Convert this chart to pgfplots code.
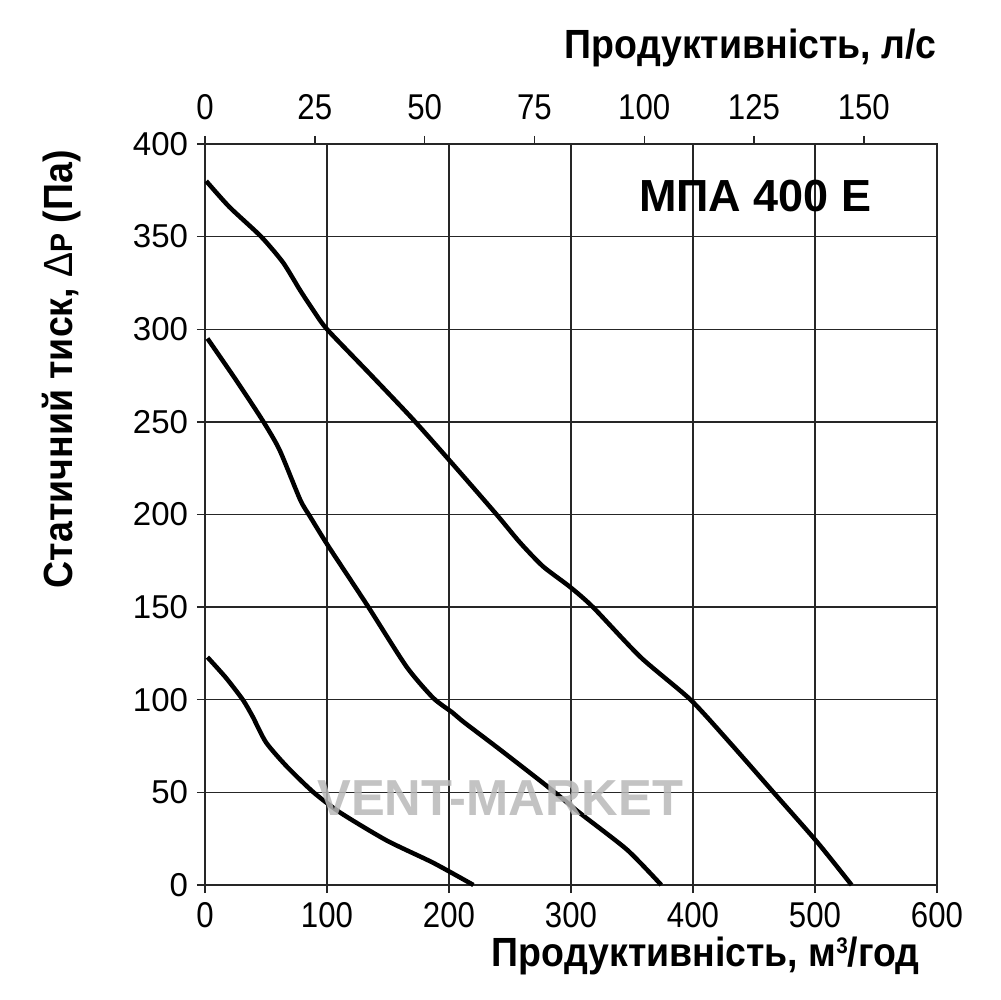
\documentclass[border=0pt]{standalone}
\usepackage{fontspec}
\setmainfont{Liberation Sans}
\usepackage{graphicx}
\usepackage{pgfplots}
\pgfplotsset{compat=1.18}
\begin{document}
\begin{tikzpicture}
\path[use as bounding box] (-51.25mm,-28.75mm) rectangle (198.75mm,221.25mm);
\begin{axis}[
  at={(0,0)}, anchor=south west,
  scale only axis, width=183mm, height=185.25mm,
  xmin=0, xmax=600, ymin=0, ymax=400,
  xtick={0,100,...,600}, ytick={0,50,...,400},
  tick align=outside, major tick length=2mm,
  xtick pos=bottom, ytick pos=left,
  grid=major,
  major grid style={line width=1pt, black!85},
  axis line style={line width=1.1pt, black!85},
  tick style={line width=1pt, black!85},
  /pgf/number format/assume math mode=true,
  xticklabel={\scalebox{0.87}[1]{\pgfmathprintnumber{\tick}}},
  x tick label style={font=\fontsize{25.5}{28}\selectfont, yshift=-1mm},
  y tick label style={font=\fontsize{23.5}{26}\selectfont, xshift=-1mm},
  clip=false,
]
\addplot[line width=3.2pt, black, smooth, tension=0.4] coordinates {
(1,380)(20,366)(46,350)(64,336)(78,321)(89,310)(100,300)(135,276)(171,251)(206,225)(239,200)(258,185)(277,172)(299,161)(318,150)(357,123)(398,100)(430,77)(466,50)(502,23)(530,0)};
\addplot[line width=3.2pt, black, smooth, tension=0.4] coordinates {
(2,295)(25,273)(47,251)(61,235)(78,208)(86,199)(101,183)(133,151)(165,118)(187,101)(203,93)(212,88)(242,73)(283,52)(307,39)(346,19)(374,0)};
\addplot[line width=3.2pt, black, smooth, tension=0.4] coordinates {
(2,123)(17,112)(31,100)(39,91)(50,77)(67,64)(89,50)(111,39)(149,24)(187,12)(220,0)};
\node[font=\fontsize{32}{36}\selectfont\bfseries] at (axis cs:451,372) {МПА 400 Е};
\node[font=\fontsize{36}{40}\selectfont\bfseries, text=black!28, opacity=0.85] at (axis cs:242,47) {VENT-MARKET};
\end{axis}
\begin{axis}[
  at={(0,0)}, anchor=south west,
  scale only axis, width=183mm, height=185.25mm,
  xmin=0, xmax=166.6667, ymin=0, ymax=400,
  axis x line*=top, axis y line=none,
  xtick={0,25,...,150},
  tick align=outside, major tick length=2mm,
  axis line style={line width=1.1pt, black!85},
  tick style={line width=1pt, black!85},
  /pgf/number format/assume math mode=true,
  xticklabel={\scalebox{0.87}[1]{\pgfmathprintnumber{\tick}}},
  x tick label style={font=\fontsize{25.5}{28}\selectfont, yshift=2.8mm},
]
\end{axis}
\node[anchor=base east, inner sep=0pt, font=\fontsize{29}{32}\selectfont\bfseries] at (178.75mm,-20.3mm) {\scalebox{0.92}[1]{Продуктивність, м\raisebox{0.6ex}{\fontsize{16}{18}\selectfont\bfseries 3}/год}};
\node[anchor=base east, inner sep=0pt, font=\fontsize{29}{32}\selectfont\bfseries] at (183mm,206.5mm) {\scalebox{0.92}[1]{Продуктивність, л/с}};
\node[anchor=base east, inner sep=0pt, rotate=90, font=\fontsize{29}{32}\selectfont\bfseries] at (-33mm,183.75mm) {\scalebox{0.92}[1]{Статичний тиск, {\mdseries Δ}{\fontsize{22}{24}\selectfont Р} (Па)}};
\end{tikzpicture}
\end{document}
